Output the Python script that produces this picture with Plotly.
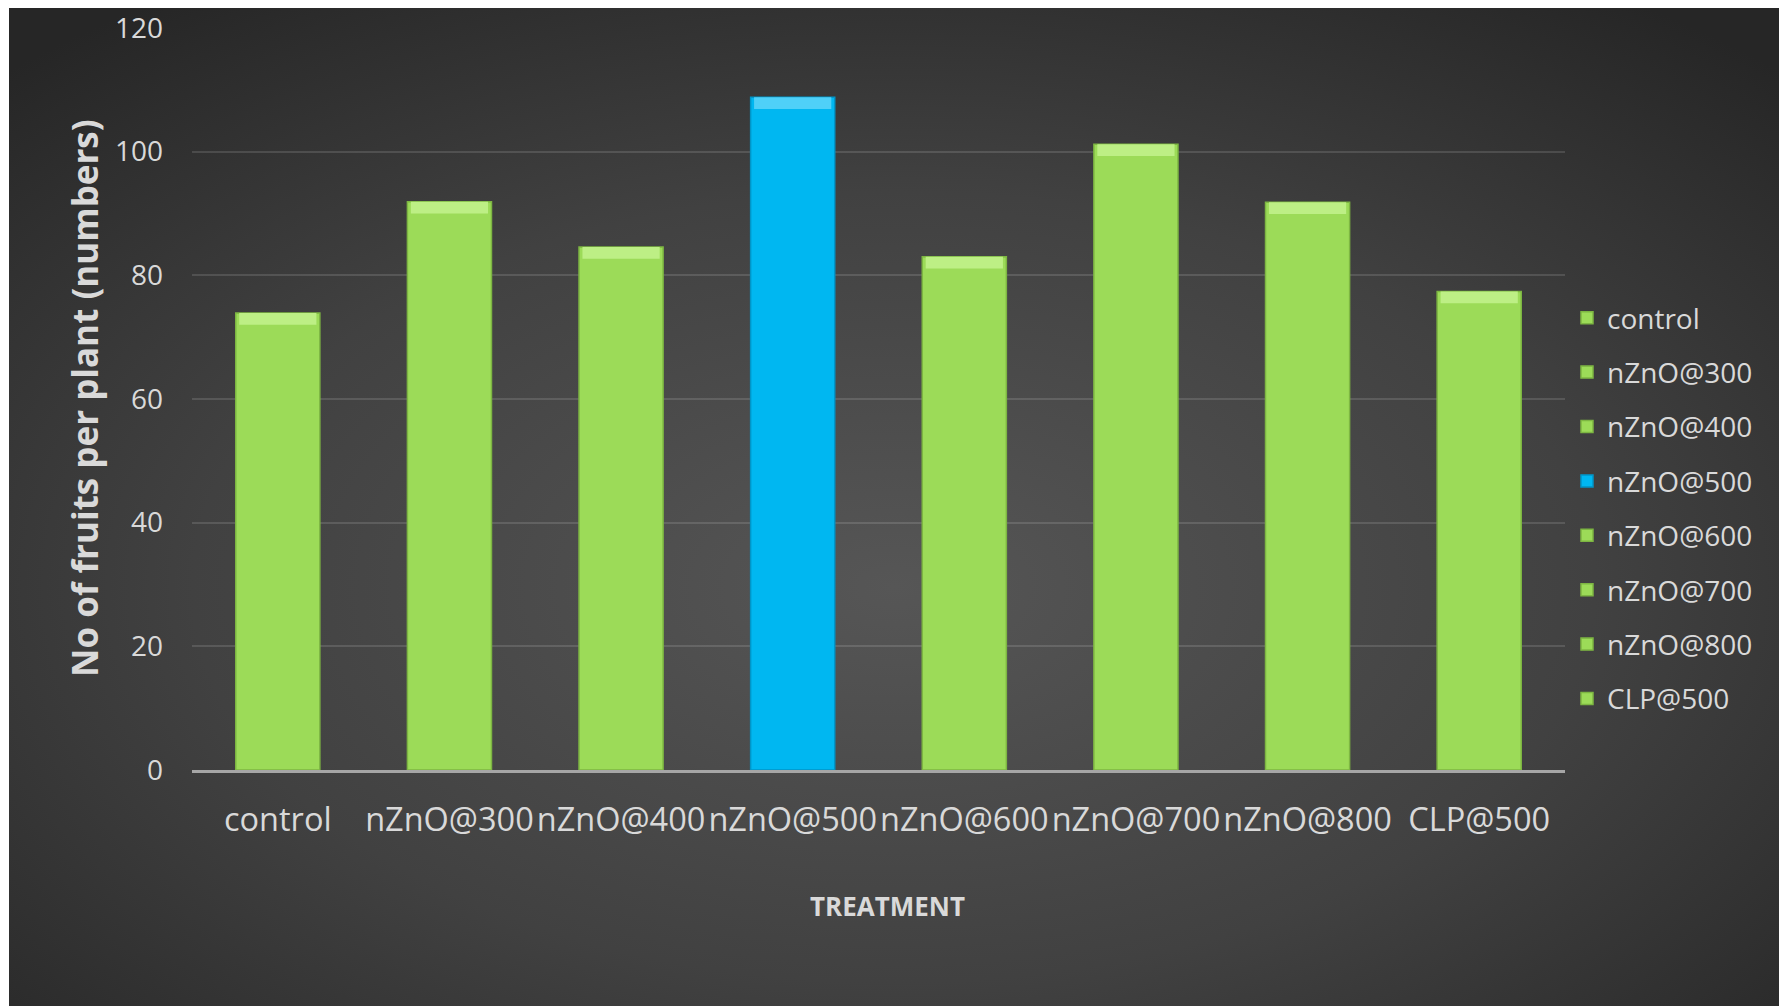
import base64
import plotly.graph_objects as go

# ---- data ----
categories = ["control", "nZnO@300", "nZnO@400", "nZnO@500",
              "nZnO@600", "nZnO@700", "nZnO@800", "CLP@500"]
values = [73.9, 91.9, 84.6, 108.8, 83.0, 101.2, 91.8, 77.4]
y_ticks = [0, 20, 40, 60, 80, 100, 120]
highlight = "nZnO@500"

# ---- style ----
W, H = 1779, 1006
L, R, T, B = 192, 214, 28, 236
pw, ph = W - L - R, H - T - B
GREEN, GREEN_TOP, GREEN_EDGE = "#9CDB58", "#BDEF85", "#7DB642"
BLUE, BLUE_TOP, BLUE_EDGE = "#00B7F1", "#4FD0F8", "#0095C8"
TXT = "#D9D9D9"
FONT = "Open Sans"

def px_x(p):
    return (p - L) / pw

def px_y(p):
    return (H - B - p) / ph

fig = go.Figure()
bevel = 1.9
for cat, val in zip(categories, values):
    hl = cat == highlight
    fig.add_trace(go.Bar(
        x=[cat], y=[val], name=cat, legendgroup=cat, width=0.49,
        marker=dict(color=BLUE if hl else GREEN,
                    line=dict(color=BLUE_EDGE if hl else GREEN_EDGE, width=1.5)),
    ))
for cat, val in zip(categories, values):
    hl = cat == highlight
    fig.add_trace(go.Bar(
        x=[cat], y=[bevel], base=[val - bevel], legendgroup=cat, showlegend=False,
        width=0.45, hoverinfo="skip",
        marker=dict(color=BLUE_TOP if hl else GREEN_TOP, line=dict(width=0)),
    ))

# radial gradient background as an SVG image
bw, bh = W - 9, H - 8
svg = f'''<svg xmlns="http://www.w3.org/2000/svg" width="{bw}" height="{bh}" viewBox="0 0 {bw} {bh}" preserveAspectRatio="none">
<defs><radialGradient id="g" cx="0.5" cy="0.58" r="0.72">
<stop offset="0" stop-color="#565656"/><stop offset="0.55" stop-color="#414141"/><stop offset="1" stop-color="#262626"/>
</radialGradient></defs><rect width="{bw}" height="{bh}" fill="url(#g)"/></svg>'''
src = "data:image/svg+xml;base64," + base64.b64encode(svg.encode()).decode()

fig.update_layout(
    width=W, height=H,
    margin=dict(l=L, r=R, t=T, b=B, autoexpand=False),
    paper_bgcolor="white",
    plot_bgcolor="rgba(0,0,0,0)",
    barmode="overlay",
    font=dict(family=FONT, color=TXT),
    images=[dict(source=src, xref="paper", yref="paper",
                 x=px_x(9), y=px_y(8), sizex=bw / pw, sizey=bh / ph,
                 xanchor="left", yanchor="top", sizing="stretch", layer="below")],
    xaxis=dict(
        type="category", categoryorder="array", categoryarray=categories,
        range=[-0.5, len(categories) - 0.5],
        showgrid=False, zeroline=False,
        showline=True, linecolor="#A6A6A6", linewidth=2.5,
        ticks="", tickangle=0, tickfont=dict(size=32.5, color=TXT, family=FONT),
        ticklabelstandoff=19,
    ),
    yaxis=dict(
        range=[0, 120], tickvals=y_ticks,
        showgrid=True, gridcolor="rgba(255,255,255,0.13)", gridwidth=1.5,
        zeroline=False, showline=False, ticks="",
        tickfont=dict(size=28, color=TXT, family=FONT),
        ticklabelstandoff=28,
    ),
    legend=dict(
        x=px_x(1567), xanchor="left", y=px_y(293), yanchor="top",
        font=dict(size=28, color=TXT, family=FONT),
        bgcolor="rgba(0,0,0,0)", traceorder="grouped", tracegroupgap=15,
        itemwidth=30,
    ),
    annotations=[
        dict(text="<b>No of fruits per plant (numbers)</b>", textangle=-90,
             xref="paper", yref="paper", x=px_x(84), y=px_y(398),
             xanchor="center", yanchor="middle", showarrow=False,
             font=dict(size=35, color=TXT, family=FONT)),
        dict(text="<b>TREATMENT</b>",
             xref="paper", yref="paper", x=px_x(888), y=px_y(906),
             xanchor="center", yanchor="middle", showarrow=False,
             font=dict(size=26, color=TXT, family=FONT)),
    ],
    showlegend=True,
)

fig.write_html("out.html")
